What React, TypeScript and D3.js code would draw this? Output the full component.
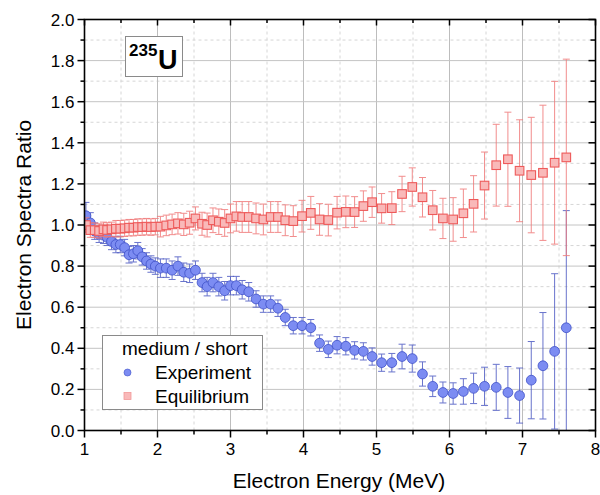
import React from "react";
import * as d3 from "d3";

// energy bins (MeV) shared by both series
const energy = [
  1.02, 1.08, 1.14, 1.2, 1.26, 1.31, 1.37, 1.43, 1.49, 1.55, 1.61, 1.67, 1.73, 1.79, 1.85, 1.91, 1.97,
  2.04, 2.12, 2.2, 2.28, 2.36, 2.44, 2.52, 2.61,
  2.68, 2.76, 2.84, 2.92, 3.0, 3.08, 3.16, 3.25, 3.35, 3.45, 3.55, 3.65, 3.75, 3.86, 3.98,
  4.1, 4.22, 4.34, 4.46, 4.58, 4.7, 4.82, 4.94, 5.07,
  5.21, 5.35, 5.49, 5.63, 5.77, 5.91, 6.05, 6.19, 6.33, 6.48, 6.64, 6.8, 6.96, 7.12, 7.28, 7.44, 7.6,
];

const experiment = [
  1.045, 1.01, 0.97, 0.955, 0.95, 0.94, 0.92, 0.905, 0.905, 0.89, 0.855, 0.86, 0.875, 0.845, 0.825, 0.81, 0.8,
  0.79, 0.79, 0.78, 0.8, 0.77, 0.765, 0.78, 0.72,
  0.7, 0.72, 0.7, 0.68, 0.705, 0.705, 0.685, 0.675, 0.64, 0.615, 0.615, 0.595, 0.55, 0.51, 0.51,
  0.5, 0.425, 0.395, 0.415, 0.41, 0.39, 0.385, 0.36, 0.33,
  0.33, 0.36, 0.35, 0.275, 0.215, 0.185, 0.18, 0.19, 0.205, 0.215, 0.21, 0.185, 0.17, 0.245, 0.315, 0.385, 0.5,
];

const experimentErr = [
  0.065, 0.05, 0.04, 0.04, 0.04, 0.04, 0.04, 0.04, 0.04, 0.04, 0.04, 0.04, 0.04, 0.04, 0.04, 0.04, 0.04,
  0.045, 0.045, 0.045, 0.045, 0.045, 0.045, 0.045, 0.045,
  0.045, 0.045, 0.045, 0.045, 0.045, 0.045, 0.045, 0.045, 0.04, 0.04, 0.04, 0.04, 0.04, 0.04, 0.04,
  0.04, 0.04, 0.04, 0.042, 0.042, 0.042, 0.042, 0.042, 0.042,
  0.045, 0.06, 0.066, 0.059, 0.05, 0.051, 0.052, 0.062, 0.074, 0.093, 0.112, 0.126, 0.134, 0.188, 0.259, 0.378, 0.57,
];

const equilibrium = [
  1.0, 0.975, 0.975, 0.971, 0.979, 0.976, 0.979, 0.982, 0.982, 0.984, 0.987, 0.987, 0.99, 0.99, 0.992, 0.99, 0.992,
  0.992, 0.998, 1.003, 1.008, 1.003, 1.011, 1.032, 1.006,
  1.0, 1.023, 1.016, 1.01, 1.032, 1.042, 1.039, 1.039, 1.032, 1.027, 1.039, 1.039, 1.023, 1.019, 1.043,
  1.059, 1.027, 1.024, 1.06, 1.064, 1.063, 1.092, 1.111, 1.081,
  1.082, 1.151, 1.185, 1.135, 1.072, 1.032, 1.027, 1.057, 1.103, 1.192, 1.291, 1.32, 1.264, 1.243, 1.254, 1.303, 1.329,
];

const equilibriumErr = [
  0.035, 0.035, 0.035, 0.035, 0.035, 0.035, 0.035, 0.04, 0.04, 0.04, 0.04, 0.04, 0.04, 0.04, 0.04, 0.04, 0.04,
  0.05, 0.05, 0.05, 0.052, 0.054, 0.056, 0.056, 0.056,
  0.058, 0.06, 0.062, 0.065, 0.07, 0.072, 0.075, 0.075, 0.075, 0.075, 0.075, 0.075, 0.075, 0.075, 0.077,
  0.08, 0.077, 0.077, 0.079, 0.077, 0.075, 0.074, 0.074, 0.072,
  0.08, 0.086, 0.093, 0.096, 0.096, 0.098, 0.106, 0.118, 0.137, 0.163, 0.199, 0.229, 0.248, 0.281, 0.329, 0.396, 0.478,
];

const xTickLabels = ["1", "2", "3", "4", "5", "6", "7", "8"];
const yTickLabels = ["0.0", "0.2", "0.4", "0.6", "0.8", "1.0", "1.2", "1.4", "1.6", "1.8", "2.0"];

const W = 600;
const H = 495;
const M = { left: 84.5, right: 595.5, top: 19.5, bottom: 430.5 };
const FONT = "'Liberation Sans', Arial, sans-serif";

const BLUE_FILL = "#7c8cf2";
const BLUE_STROKE = "#3f50c8";
const BLUE_ERR = "#4f5cc4";
const RED_FILL = "#f9b9b9";
const RED_STROKE = "#ee5a5a";
const RED_ERR = "#f07a7a";

export default function App() {
  const x = d3.scaleLinear().domain([1, 8]).range([M.left, M.right]);
  const y = d3.scaleLinear().domain([0, 2]).range([M.bottom, M.top]);

  const xMajor = xTickLabels.map(Number);
  const xMinor = d3.range(1.5, 8, 1);
  const yMajor = yTickLabels.map(Number);
  const yMinor = d3.range(0.1, 2, 0.2);

  const clamp = (v: number) => Math.max(M.top, Math.min(M.bottom, v));

  const errBars = (vals: number[], errs: number[], color: string) =>
    energy.map((e, i) => {
      const cx = x(e);
      const top = y(vals[i] + errs[i]);
      const bot = y(vals[i] - errs[i]);
      return (
        <g key={i} stroke={color} strokeWidth={1} opacity={0.85}>
          <line x1={cx} x2={cx} y1={clamp(top)} y2={clamp(bot)} />
          {top >= M.top && <line x1={cx - 3.5} x2={cx + 3.5} y1={top} y2={top} />}
          {bot <= M.bottom && <line x1={cx - 3.5} x2={cx + 3.5} y1={bot} y2={bot} />}
        </g>
      );
    });

  return (
    <div style={{ position: "fixed", left: 0, top: 0, width: W, height: H, background: "#fff" }}>
      <svg width={W} height={H} style={{ display: "block" }} fontFamily={FONT}>
        <rect width={W} height={H} fill="#fff" />

        {/* grid */}
        {xMinor.map((v) => (
          <line key={"gxm" + v} x1={x(v)} x2={x(v)} y1={M.top} y2={M.bottom} stroke="#d6d6d6" strokeDasharray="3,3" />
        ))}
        {yMinor.map((v) => (
          <line key={"gym" + v} x1={M.left} x2={M.right} y1={y(v)} y2={y(v)} stroke="#d6d6d6" strokeDasharray="3,3" />
        ))}
        {xMajor.map((v) => (
          <line key={"gx" + v} x1={x(v)} x2={x(v)} y1={M.top} y2={M.bottom} stroke="#bdbdbd" />
        ))}
        {yMajor.map((v) => (
          <line key={"gy" + v} x1={M.left} x2={M.right} y1={y(v)} y2={y(v)} stroke="#c4c4c4" />
        ))}

        {/* data */}
        <defs>
          <clipPath id="plot">
            <rect x={M.left} y={M.top} width={M.right - M.left} height={M.bottom - M.top} />
          </clipPath>
        </defs>
        <g clipPath="url(#plot)">
          {errBars(experiment, experimentErr, BLUE_ERR)}
          {energy.map((e, i) => (
            <circle key={"c" + i} cx={x(e)} cy={y(experiment[i])} r={4.9} fill={BLUE_FILL} stroke={BLUE_STROKE} strokeWidth={0.8} />
          ))}
          {errBars(equilibrium, equilibriumErr, RED_ERR)}
          {energy.map((e, i) => (
            <rect key={"s" + i} x={x(e) - 4.3} y={y(equilibrium[i]) - 4.3} width={8.6} height={8.6} fill={RED_FILL} stroke={RED_STROKE} strokeWidth={1.1} />
          ))}
        </g>

        {/* frame */}
        <rect x={M.left} y={M.top} width={M.right - M.left} height={M.bottom - M.top} fill="none" stroke="#000" strokeWidth={1.6} />

        {/* ticks */}
        {xMajor.map((v) => (
          <g key={"tx" + v} stroke="#000" strokeWidth={1.5}>
            <line x1={x(v)} x2={x(v)} y1={M.bottom} y2={M.bottom + 7} />
            <line x1={x(v)} x2={x(v)} y1={M.top} y2={M.top + 6} />
          </g>
        ))}
        {xMinor.map((v) => (
          <g key={"txm" + v} stroke="#000" strokeWidth={1.5}>
            <line x1={x(v)} x2={x(v)} y1={M.bottom} y2={M.bottom + 4} />
            <line x1={x(v)} x2={x(v)} y1={M.top} y2={M.top + 3.5} />
          </g>
        ))}
        {yMajor.map((v) => (
          <g key={"ty" + v} stroke="#000" strokeWidth={1.5}>
            <line x1={M.left - 7} x2={M.left} y1={y(v)} y2={y(v)} />
            <line x1={M.right - 7} x2={M.right} y1={y(v)} y2={y(v)} />
          </g>
        ))}
        {yMinor.map((v) => (
          <g key={"tym" + v} stroke="#000" strokeWidth={1.5}>
            <line x1={M.left - 4} x2={M.left} y1={y(v)} y2={y(v)} />
            <line x1={M.right - 5} x2={M.right} y1={y(v)} y2={y(v)} />
          </g>
        ))}

        {/* tick labels */}
        {xTickLabels.map((t) => (
          <text key={"lx" + t} x={x(+t)} y={M.bottom + 24} textAnchor="middle" fontSize={17} fill="#000">
            {t}
          </text>
        ))}
        {yTickLabels.map((t) => (
          <text key={"ly" + t} x={M.left - 10} y={y(+t) + 6} textAnchor="end" fontSize={17} fill="#000">
            {t}
          </text>
        ))}

        {/* axis titles */}
        <text x={(M.left + M.right) / 2 - 1} y={488} textAnchor="middle" fontSize={21} fill="#000">
          Electron Energy (MeV)
        </text>
        <text transform={`translate(31, ${(M.top + M.bottom) / 2}) rotate(-90)`} textAnchor="middle" fontSize={21} fill="#000">
          Electron Spectra Ratio
        </text>

        {/* isotope label */}
        <rect x={125.5} y={36.5} width={57} height={40} fill="#fff" stroke="#8a8a8a" strokeWidth={1} />
        <text x={129} y={56} fontSize={17} fontWeight="bold" fill="#000">235</text>
        <text x={158} y={68.5} fontSize={27} fontWeight="bold" fill="#000">U</text>

        {/* legend */}
        <rect x={102.5} y={335.5} width={160} height={74} fill="#fff" stroke="#8a8a8a" strokeWidth={1} />
        <text x={122} y={354.5} fontSize={19} fill="#000">medium / short</text>
        <circle cx={127.5} cy={372.5} r={3.5} fill={BLUE_FILL} stroke={BLUE_STROKE} strokeWidth={0.6} />
        <text x={155} y={378.5} fontSize={19} fill="#000">Experiment</text>
        <rect x={124} y={392.5} width={7} height={7} fill={RED_FILL} stroke="#f29a9a" strokeWidth={0.8} />
        <text x={155} y={402.5} fontSize={19} fill="#000">Equilibrium</text>
      </svg>
    </div>
  );
}
